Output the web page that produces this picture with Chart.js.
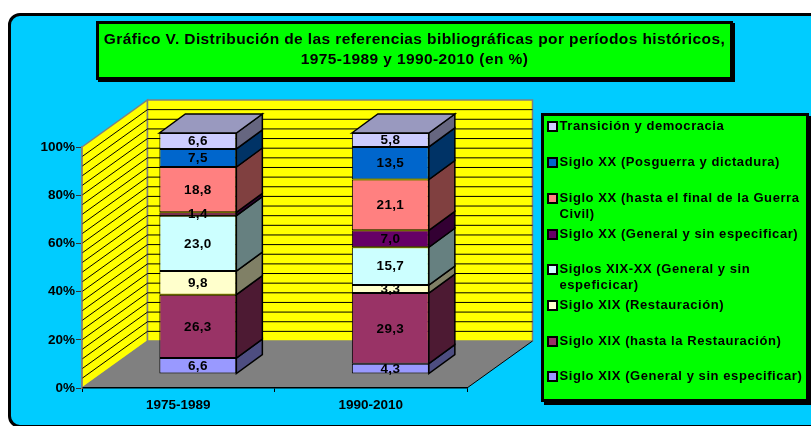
<!DOCTYPE html>
<html lang="es">
<head>
<meta charset="utf-8">
<title>Gráfico V</title>
<script src="https://cdn.jsdelivr.net/npm/chart.js@4"></script>
<style>
  html, body { margin: 0; padding: 0; background: #fff; overflow: hidden; }
  body { width: 811px; height: 426px; position: relative; font-family: "Liberation Sans", Arial, sans-serif; font-weight: bold; color: #000; }
  #frame { position: absolute; left: 8px; top: 13px; width: 830px; height: 409px; background: #00ccff; border: 3.5px solid #000; border-radius: 12px; }
  canvas { position: absolute; left: 0; top: 0; }
  #title { position: absolute; left: 96px; top: 21px; width: 631px; height: 48px; background: #00ff00; border: 3px solid #000; box-shadow: 2px 2px 0 #000; text-align: center; font-size: 15.5px; letter-spacing: 0.4px; line-height: 20px; padding-top: 5px; }
  #title div { white-space: nowrap; }
  #legend { position: absolute; left: 541px; top: 113px; width: 262px; height: 283px; background: #00ff00; border: 3px solid #000; box-shadow: 3px 3px 0 #000; }
  .item { position: absolute; left: 15.5px; width: 245px; font-size: 13px; line-height: 16px; letter-spacing: 0.57px; white-space: pre; }
  .swatch { position: absolute; left: -12.5px; top: 3px; width: 7px; height: 7px; border: 2px solid #000; }
</style>
</head>
<body>
<div id="frame"></div>
<canvas id="chart" width="811" height="426"></canvas>
<div id="title">
  <div>Gráfico V. Distribución de las referencias bibliográficas por períodos históricos,</div>
  <div>1975-1989 y 1990-2010 (en %)</div>
</div>
<div id="legend"></div>
<script>
const categories = ["1975-1989", "1990-2010"];
const tickLabels = ["0%", "20%", "40%", "60%", "80%", "100%"];

// bottom of the stack first, the legend lists them the other way round
const seriesNames = [
  "Siglo XIX (General y sin especificar)",
  "Siglo XIX (hasta la Restauración)",
  "Siglo XIX (Restauración)",
  "Siglos XIX-XX (General y sin\nespeficicar)",
  "Siglo XX (General y sin especificar)",
  "Siglo XX (hasta el final de la Guerra\nCivil)",
  "Siglo XX (Posguerra y dictadura)",
  "Transición y democracia",
];
const xixGeneral = [6.6, 4.3];
const xixHastaRestauracion = [26.3, 29.3];
const xixRestauracion = [9.8, 3.3];
const xixXxGeneral = [23.0, 15.7];
const xxGeneral = [1.4, 7.0];
const xxHastaGuerra = [18.8, 21.1];
const xxPosguerra = [7.5, 13.5];
const transicion = [6.6, 5.8];

const seriesValues = [
  xixGeneral,
  xixHastaRestauracion,
  xixRestauracion,
  xixXxGeneral,
  xxGeneral,
  xxHastaGuerra,
  xxPosguerra,
  transicion,
];
const seriesColors = ["#9999ff", "#993366", "#ffffcc", "#ccffff", "#660066", "#ff8080", "#0066cc", "#ccccff"];

// 3D look: how far the walls and the bars are pushed back
const wallDepth = { x: 65.5, y: -47 };
const barShift = { x: 19.6, y: -14 };
const barDepth = { x: 26, y: -19 };
const minorStep = 4;

function shade(hex, factor) {
  const n = parseInt(hex.slice(1), 16);
  const r = Math.round(((n >> 16) & 255) * factor);
  const g = Math.round(((n >> 8) & 255) * factor);
  const b = Math.round((n & 255) * factor);
  return `rgb(${r},${g},${b})`;
}

function polygon(ctx, points, fill, stroke, lineWidth) {
  ctx.beginPath();
  points.forEach((p, i) => (i ? ctx.lineTo(p[0], p[1]) : ctx.moveTo(p[0], p[1])));
  ctx.closePath();
  if (fill) {
    ctx.fillStyle = fill;
    ctx.fill();
  }
  if (stroke) {
    ctx.strokeStyle = stroke;
    ctx.lineWidth = lineWidth;
    ctx.stroke();
  }
}

const walls3d = {
  id: "walls3d",
  beforeDraw(chart) {
    const { ctx, chartArea: a, scales } = chart;
    const dx = wallDepth.x;
    const dy = wallDepth.y;
    ctx.save();
    // side wall, back wall, floor
    polygon(ctx, [[a.left, a.top], [a.left + dx, a.top + dy], [a.left + dx, a.bottom + dy], [a.left, a.bottom]], "#ffff00", "#808080", 1.5);
    polygon(ctx, [[a.left + dx, a.top + dy], [a.right + dx, a.top + dy], [a.right + dx, a.bottom + dy], [a.left + dx, a.bottom + dy]], "#ffff00", "#808080", 1.5);
    polygon(ctx, [[a.left, a.bottom], [a.left + dx, a.bottom + dy], [a.right + dx, a.bottom + dy], [a.right, a.bottom]], "#808080");

    // grid lines run round both walls
    ctx.strokeStyle = "#000";
    ctx.lineWidth = 1;
    for (let v = minorStep; v < 100; v += minorStep) {
      const y = scales.y.getPixelForValue(v);
      ctx.beginPath();
      ctx.moveTo(a.left, y);
      ctx.lineTo(a.left + dx, y + dy);
      ctx.lineTo(a.right + dx, y + dy);
      ctx.stroke();
    }
    ctx.beginPath();
    ctx.moveTo(a.right, a.bottom);
    ctx.lineTo(a.right + dx, a.bottom + dy);
    ctx.stroke();
    ctx.restore();
  },
  beforeDatasetsDraw(chart) {
    chart.ctx.save();
    chart.ctx.translate(barShift.x, barShift.y);
  },
  afterDatasetsDraw(chart) {
    const { ctx } = chart;
    const dx = barDepth.x;
    const dy = barDepth.y;
    const last = seriesValues.length - 1;

    seriesValues.forEach((values, s) => {
      const color = seriesColors[s];
      chart.getDatasetMeta(s).data.forEach((bar) => {
        const left = bar.x - bar.width / 2;
        const right = bar.x + bar.width / 2;
        polygon(ctx, [[right, bar.y], [right + dx, bar.y + dy], [right + dx, bar.base + dy], [right, bar.base]], shade(color, 0.5), "#000", 1.5);
        if (s === last) {
          polygon(ctx, [[left, bar.y], [left + dx, bar.y + dy], [right + dx, bar.y + dy], [right, bar.y]], shade(color, 0.75), "#000", 1.5);
        }
      });
    });

    ctx.fillStyle = "#000";
    ctx.font = 'bold 13.5px "Liberation Sans", Arial, sans-serif';
    ctx.letterSpacing = "0.3px";
    ctx.textAlign = "center";
    ctx.textBaseline = "middle";
    seriesValues.forEach((values, s) => {
      chart.getDatasetMeta(s).data.forEach((bar, i) => {
        ctx.fillText(values[i].toFixed(1).replace(".", ","), bar.x, (bar.y + bar.base) / 2 + 0.5);
      });
    });
    ctx.restore();
  },
};

const datasets = seriesNames.map((name, s) => ({
  label: name,
  data: seriesValues[s],
  backgroundColor: seriesColors[s],
  borderColor: "#000",
  borderWidth: 1,
  borderSkipped: false,
  barPercentage: 0.4,
  categoryPercentage: 1,
  clip: false,
}));

new Chart(document.getElementById("chart"), {
  type: "bar",
  data: { labels: categories, datasets: datasets },
  options: {
    responsive: false,
    animation: false,
    layout: { padding: { top: 147, right: 344, left: 0, bottom: 0 } },
    plugins: { legend: { display: false }, tooltip: { enabled: false } },
    scales: {
      x: {
        stacked: true,
        afterFit(scale) {
          scale.height = 38;
        },
        grid: { drawOnChartArea: false, color: "#000", tickLength: 4 },
        border: { color: "#000", width: 1.5 },
        ticks: { color: "#000", padding: 5, maxRotation: 0, font: { family: "Liberation Sans", weight: "bold", size: 13.5 } },
      },
      y: {
        stacked: true,
        min: 0,
        max: 100,
        afterFit(scale) {
          scale.width = 82;
        },
        grid: { drawOnChartArea: false, color: "#333", tickLength: 6 },
        border: { color: "#808080", width: 1.5 },
        ticks: {
          stepSize: 20,
          color: "#000",
          padding: 1,
          font: { family: "Liberation Sans", weight: "bold", size: 13.5 },
          callback: (value) => tickLabels[value / 20],
        },
      },
    },
  },
  plugins: [walls3d],
});

// legend box, built from the same series arrays
const legend = document.getElementById("legend");
const rowTops = [0, 36, 72, 108, 143, 179, 215, 250];
seriesNames.slice().reverse().forEach((name, i) => {
  const item = document.createElement("div");
  item.className = "item";
  item.style.top = rowTops[i] + 2 + "px";
  const swatch = document.createElement("span");
  swatch.className = "swatch";
  swatch.style.background = seriesColors[seriesColors.length - 1 - i];
  item.appendChild(swatch);
  item.appendChild(document.createTextNode(name));
  legend.appendChild(item);
});
</script>
</body>
</html>
